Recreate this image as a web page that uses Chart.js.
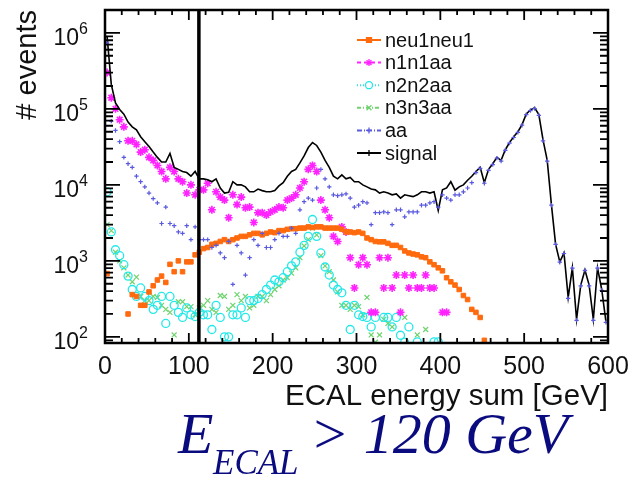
<!DOCTYPE html>
<html>
<head>
<meta charset="utf-8">
<title>ECAL energy sum</title>
<script src="https://cdn.jsdelivr.net/npm/chart.js@4.4.1/dist/chart.umd.min.js"></script>
<style>
    html, body { margin: 0; padding: 0; background: #fff; }
    #wrap { position: absolute; left: 0; top: 0; width: 632px; height: 481px; }
</style>
</head>
<body>
<div id="wrap"><canvas id="ecalChart" width="632" height="481"></canvas></div>
<script>
// 5 GeV bins from 0 to 600 GeV (120 bins)
const binWidth = 5;
const binCenters = Array.from({ length: 120 }, (_, i) => binWidth / 2 + binWidth * i);

const xTicks = [0, 100, 200, 300, 400, 500, 600];
const yDecades = [2, 3, 4, 5, 6];
const cutValue = 112;

const signal = [
    9.0e5, 2.1e5, 1.2e5, 9.8e4, 8.5e4, 6.7e4, 5.8e4, 5.3e4, 4.3e4, 3.7e4,
    3.2e4, 2.7e4, 2.3e4, 2.0e4, 2.0e4, 2.6e4, 1.7e4, 1.6e4, 1.5e4, 1.45e4,
    1.3e4, 1.5e4, 1.2e4, 1.2e4, 1.17e4, 1.1e4, 1.2e4, 9.1e3, 7.8e3, 8.0e3,
    1.1e4, 1.0e4, 1.0e4, 9.4e3, 8.1e3, 8.1e3, 8.8e3, 8.4e3, 8.1e3, 8.1e3,
    8.4e3, 9.7e3, 1.07e4, 1.3e4, 1.5e4, 1.6e4, 1.95e4, 2.4e4, 3.1e4, 3.6e4,
    3.3e4, 2.7e4, 2.1e4, 1.7e4, 1.3e4, 1.2e4, 1.35e4, 1.2e4, 1.25e4, 1.1e4,
    1.1e4, 1.0e4, 9.4e3, 8.8e3, 8.6e3, 7.8e3, 8.1e3, 7.8e3, 7.4e3, 7.6e3,
    6.7e3, 7.4e3, 7.2e3, 7.0e3, 7.4e3, 8.1e3, 8.1e3, 7.8e3, 8.1e3, 4.6e3,
    8.6e3, 9.1e3, 1.1e4, 8.5e3, 9.4e3, 1.0e4, 1.15e4, 1.3e4, 1.5e4, 1.7e4,
    1.07e4, 1.6e4, 1.9e4, 2.3e4, 2.1e4, 2.9e4, 3.6e4, 4.3e4, 5.0e4, 6.2e4,
    8.6e4, 9.7e4, 1.03e5, 8.4e4, 3.9e4, 2.1e4, 5.5e3, 1.65e3, 970, 1.27e3,
    330, 810, 170, 480, 760, 480, 170, 810, 420, 160
];

const aa = [
    7.4e5, 6.9e4, 5.2e4, 3.7e4, 2.3e4, 1.9e4, 1.7e4, 1.3e4, 1.1e4, 9.4e3,
    7.8e3, 6.6e3, 5.8e3, 3.1e3, 5.1e3, 3.1e3, 2.9e3, 2.4e3, 2.3e3, 2.9e3,
    1.9e3, 2.8e3, 1.9e3, 1.9e3, 1.9e3, 1.5e3, 1.6e3, 1.27e3, 1.1e3, 1.8e3,
    490, 1.6e3, 1.27e3, 650, 1.1e3, 1.9e3, 1.6e3, 2.3e3, 1.5e3, 1.5e3,
    1.9e3, 2.3e3, 2.1e3, 2.1e3, 2.7e3, 2.3e3, 4.7e3, 6.0e3, 6.7e3, 6.3e3,
    9.1e3, 1.6e4, 1.2e4, 9.4e3, 7.4e3, 7.2e3, 7.4e3, 7.6e3, 6.7e3, 5.1e3,
    5.4e3, 6.0e3, 5.8e3, 3.0e3, 4.3e3, 4.3e3, 4.4e3, 4.3e3, 3.0e3, 4.7e3,
    4.7e3, 3.8e3, 4.4e3, 4.4e3, 4.4e3, 5.4e3, 5.4e3, 5.8e3, 6.0e3, 5.1e3,
    7.4e3, 6.7e3, 6.3e3, 7.4e3, 7.4e3, 8.1e3, 9.1e3, 1.07e4, 1.45e4, 1.65e4,
    1.05e4, 1.55e4, 1.85e4, 2.25e4, 2.05e4, 2.85e4, 3.55e4, 4.2e4, 4.9e4, 6.1e4,
    8.4e4, 9.5e4, 1.01e5, 8.2e4, 3.8e4, 2.05e4, 5.4e3, 1.65e3, 960, 1.25e3,
    320, 800, 165, 470, 750, 470, 165, 800, 410, 155
];

const n1n1aa = [
    3.0e5, 1.4e5, 1.0e5, 7.2e4, 5.8e4, 3.8e4, 3.8e4, 3.4e4, 2.7e4, 2.9e4,
    2.3e4, 2.1e4, 1.8e4, 1.5e4, 1.2e4, 1.7e4, 1.5e4, 1.2e4, 1.1e4, 7.8e3,
    1.0e4, 7.4e3, 8.6e3, 8.6e3, 1.05e4, 4.7e3, 8.1e3, 6.9e3, 6.3e3, 3.7e3,
    7.4e3, 5.5e3, 6.9e3, 5.0e3, 5.1e3, 3.2e3, 4.3e3, 4.3e3, 4.0e3, 4.4e3,
    4.7e3, 5.1e3, 5.0e3, 6.3e3, 6.7e3, 7.4e3, 9.1e3, 1.1e4, 1.6e4, 1.8e4,
    1.5e4, 6.3e3, 4.7e3, 3.7e3, 2.1e3, 1.8e3, 2.8e3, 2.4e3, 1.1e3, 440,
    890, 1.1e3, 890, 210, 210, 1.1e3, 440, 1.1e3, 440, 650,
    210, 650, 440, 650, 440, 440, 650, 440, 440, null,
    210, 210, null, null, null, null, null, null, null, null,
    null, null, null, null, null, null, null, null, null, null,
    null, null, null, null, null, null, null, null, null, null,
    null, null, null, null, null, null, null, null, null, null
];

const neu1neu1 = [
    680, null, null, null, null, 200, 360, 340, 260, 260,
    390, 470, 560, 630, 520, 900, 720, 1.0e3, 720, 970,
    970, 1.2e3, 1.3e3, 1.45e3, 1.5e3, 1.65e3, 1.7e3, 1.8e3, 1.9e3, 1.8e3,
    1.9e3, 2.0e3, 2.1e3, 2.1e3, 2.2e3, 2.3e3, 2.3e3, 2.2e3, 2.3e3, 2.4e3,
    2.35e3, 2.5e3, 2.5e3, 2.6e3, 2.65e3, 2.65e3, 2.7e3, 2.7e3, 2.8e3, 2.75e3,
    2.8e3, 2.8e3, 2.7e3, 2.7e3, 2.7e3, 2.7e3, 2.6e3, 2.4e3, 2.4e3, 2.35e3,
    2.4e3, 2.3e3, 2.0e3, 1.9e3, 1.8e3, 1.78e3, 1.78e3, 1.7e3, 1.6e3, 1.6e3,
    1.5e3, 1.35e3, 1.27e3, 1.23e3, 1.2e3, 1.13e3, 1.1e3, 970, 890, 810,
    740, 600, 530, 480, 420, 350, 310, 230, 210, 180,
    90, null, null, null, null, null, null, null, null, null,
    null, null, null, null, null, null, null, null, null, null,
    null, null, null, null, null, null, null, null, null, null
];

const n2n2aa = [
    8.1e3, 2.4e3, 1.4e3, 1.17e3, 890, 630, 420, 340, 440, 340,
    300, 230, 260, 340, 150, 340, 260, 210, 180, 240,
    195, 185, 210, 195, 195, 125, 260, 180, 100, 100,
    195, 195, 240, 180, 300, 300, 320, 360, 420, 480,
    560, 530, 600, 720, 860, 970, 1.3e3, 1.6e3, 2.1e3, 3.5e3,
    2.1e3, 1.27e3, 830, 650, 480, 420, 380, 260, 125, 260,
    195, 185, 180, 135, 180, null, 180, 180, 135, 180,
    105, 85, 135, null, 86, null, null, null, 86, 86,
    null, null, null, null, null, null, null, null, null, null,
    null, null, null, null, null, null, null, null, null, null,
    null, null, null, null, null, null, null, null, null, null,
    null, null, null, null, null, null, null, null, null, null
];

const n3n3aa = [
    3.0e3, 2.5e3, 1.3e3, 1.0e3, 810, 650, 530, 610, 340, 300,
    300, 340, 330, 260, 230, 210, 106, 290, 290, 250,
    250, 195, 240, 260, 300, 230, 210, 350, 340, 230,
    260, 360, 300, 340, 240, 260, 340, 340, 300, 360,
    420, 470, 560, 600, 690, 810, 1.1e3, 1.57e3, 1.9e3, 2.7e3,
    2.2e3, 1.17e3, 860, 720, 560, 390, 260, 260, 230, 260,
    250, 195, 330, 106, 85, 106, 170, 150, 135, null,
    null, 180, null, null, 106, null, 125, null, null, null,
    null, null, null, null, null, null, null, null, null, null,
    null, null, null, null, null, null, null, null, null, null,
    null, null, null, null, null, null, null, null, null, null,
    null, null, null, null, null, null, null, null, null, null
];

const colors = {
    neu1neu1: '#ff6a0e',
    n1n1aa: '#ff22ff',
    n2n2aa: '#22e8e8',
    n3n3aa: '#6fd36f',
    aa: '#5a5ae0',
    signal: '#000000'
};

function toPoints(values) {
    return values
        .map((v, i) => (v == null ? null : { x: binCenters[i], y: v }))
        .filter(p => p !== null);
}

// legend rows: label, colour, dash, point style
const legendRows = [
    { label: 'neu1neu1', color: colors.neu1neu1, dash: [], marker: 'rect' },
    { label: 'n1n1aa', color: colors.n1n1aa, dash: [4, 3], marker: 'star' },
    { label: 'n2n2aa', color: colors.n2n2aa, dash: [1, 2], marker: 'circle' },
    { label: 'n3n3aa', color: colors.n3n3aa, dash: [4, 2, 1, 2], marker: 'crossRot' },
    { label: 'aa', color: colors.aa, dash: [5, 2, 1, 2], marker: 'cross' },
    { label: 'signal', color: colors.signal, dash: [], marker: 'cross' }
];

const framePlugin = {
    id: 'rootFrame',
    beforeDraw(chart) {
        const ctx = chart.ctx;
        ctx.save();
        ctx.fillStyle = '#fff';
        ctx.fillRect(0, 0, chart.width, chart.height);
        ctx.restore();
    },
    afterDatasetsDraw(chart) {
        const { ctx, chartArea: a, scales } = chart;
        const xs = scales.x, ys = scales.y;
        ctx.save();
        ctx.strokeStyle = '#000';
        ctx.fillStyle = '#000';

        // frame
        ctx.lineWidth = 2.5;
        ctx.strokeRect(a.left, a.top, a.right - a.left, a.bottom - a.top);

        // x ticks, bottom and top
        ctx.lineWidth = 1.8;
        ctx.beginPath();
        for (let v = 0; v <= 600; v += 20) {
            const px = xs.getPixelForValue(v);
            const len = v % 100 === 0 ? 10 : 5;
            ctx.moveTo(px, a.bottom); ctx.lineTo(px, a.bottom - len);
            ctx.moveTo(px, a.top); ctx.lineTo(px, a.top + len);
        }
        // y ticks, left and right
        for (let d = 1; d <= 6; d++) {
            for (let m = 1; m <= 9; m++) {
                const v = m * Math.pow(10, d);
                if (v < ys.min || v > ys.max) continue;
                const py = ys.getPixelForValue(v);
                const len = m === 1 ? 15 : 8;
                ctx.moveTo(a.left, py); ctx.lineTo(a.left + len, py);
                ctx.moveTo(a.right, py); ctx.lineTo(a.right - len, py);
            }
        }
        ctx.stroke();

        // x tick labels
        ctx.fillStyle = '#111';
        ctx.font = '25px "Liberation Sans", Arial, sans-serif';
        ctx.textAlign = 'center';
        ctx.textBaseline = 'alphabetic';
        xTicks.forEach(v => {
            ctx.fillText(String(v), xs.getPixelForValue(v), 374);
        });

        // y tick labels as 10^n
        yDecades.forEach(n => {
            const py = ys.getPixelForValue(Math.pow(10, n));
            ctx.font = '23px "Liberation Sans", Arial, sans-serif';
            ctx.textAlign = 'right';
            ctx.fillText('10', 79, py + 12);
            ctx.font = '16px "Liberation Sans", Arial, sans-serif';
            ctx.textAlign = 'left';
            ctx.fillText(String(n), 79, py + 1);
        });

        // axis titles
        ctx.font = '29.5px "Liberation Sans", Arial, sans-serif';
        ctx.textAlign = 'right';
        ctx.fillText('ECAL energy sum [GeV]', a.right, 405);
        ctx.save();
        ctx.translate(36, a.top);
        ctx.rotate(-Math.PI / 2);
        ctx.font = '29px "Liberation Sans", Arial, sans-serif';
        ctx.fillText('# events', 0, 0);
        ctx.restore();

        // legend
        ctx.font = '20px "Liberation Sans", Arial, sans-serif';
        ctx.textAlign = 'left';
        ctx.textBaseline = 'middle';
        legendRows.forEach((row, i) => {
            const y = 40 + i * 22.6;
            ctx.strokeStyle = row.color;
            ctx.lineWidth = 2;
            ctx.setLineDash(row.dash);
            ctx.beginPath();
            ctx.moveTo(357, y); ctx.lineTo(381, y);
            ctx.stroke();
            ctx.setLineDash([]);
            ctx.lineWidth = 1.3;
            ctx.fillStyle = row.marker === 'circle' ? '#fff' : row.color;
            Chart.helpers.drawPoint(ctx, {
                pointStyle: row.marker,
                radius: row.marker === 'cross' ? 3 : 3.5,
                borderWidth: 1.3,
                rotation: 0
            }, 369, y);
            ctx.fillStyle = '#111';
            ctx.fillText(row.label, 385, y + 1);
        });

        // cut annotation
        ctx.fillStyle = '#0b0b80';
        ctx.textBaseline = 'alphabetic';
        ctx.font = 'italic 58px "Liberation Serif", "Times New Roman", serif';
        ctx.fillText('E', 178, 453);
        ctx.font = 'italic 35px "Liberation Serif", "Times New Roman", serif';
        ctx.fillText('ECAL', 213, 474);
        ctx.font = 'italic 58px "Liberation Serif", "Times New Roman", serif';
        ctx.fillText('> 120 GeV', 310, 453);

        ctx.restore();
    }
};

const ctx = document.getElementById('ecalChart').getContext('2d');
new Chart(ctx, {
    type: 'scatter',
    data: {
        datasets: [
            {
                label: 'aa',
                data: toPoints(aa),
                pointStyle: 'cross',
                pointRadius: 2.2,
                borderColor: colors.aa,
                backgroundColor: colors.aa,
                borderWidth: 1.2,
                order: 1
            },
            {
                label: 'signal',
                data: toPoints(signal),
                showLine: true,
                borderColor: colors.signal,
                borderWidth: 1.6,
                pointRadius: 0,
                order: 2
            },
            {
                label: 'neu1neu1',
                data: toPoints(neu1neu1),
                pointStyle: 'rect',
                pointRadius: 3.2,
                borderColor: colors.neu1neu1,
                backgroundColor: colors.neu1neu1,
                borderWidth: 1,
                order: 3
            },
            {
                label: 'n1n1aa',
                data: toPoints(n1n1aa),
                pointStyle: 'star',
                pointRadius: 4,
                borderColor: colors.n1n1aa,
                backgroundColor: colors.n1n1aa,
                borderWidth: 1.6,
                order: 4
            },
            {
                label: 'n2n2aa',
                data: toPoints(n2n2aa),
                pointStyle: 'circle',
                pointRadius: 4,
                borderColor: colors.n2n2aa,
                backgroundColor: 'rgba(0,0,0,0)',
                borderWidth: 1.3,
                order: 5
            },
            {
                label: 'n3n3aa',
                data: toPoints(n3n3aa),
                pointStyle: 'crossRot',
                pointRadius: 3.5,
                borderColor: colors.n3n3aa,
                backgroundColor: colors.n3n3aa,
                borderWidth: 1.2,
                order: 6
            },
            {
                label: 'cut',
                data: [{ x: cutValue, y: 83 }, { x: cutValue, y: 2.0e6 }],
                showLine: true,
                borderColor: '#000',
                borderWidth: 3.5,
                pointRadius: 0,
                order: 0
            }
        ]
    },
    options: {
        responsive: false,
        animation: false,
        devicePixelRatio: 1,
        layout: { padding: { left: 105, right: 24, top: 10, bottom: 138 } },
        plugins: {
            legend: { display: false },
            tooltip: { enabled: false }
        },
        scales: {
            x: { type: 'linear', min: 0, max: 600, display: false },
            y: { type: 'logarithmic', min: 83, max: 2.0e6, display: false }
        }
    },
    plugins: [framePlugin]
});
</script>
</body>
</html>
